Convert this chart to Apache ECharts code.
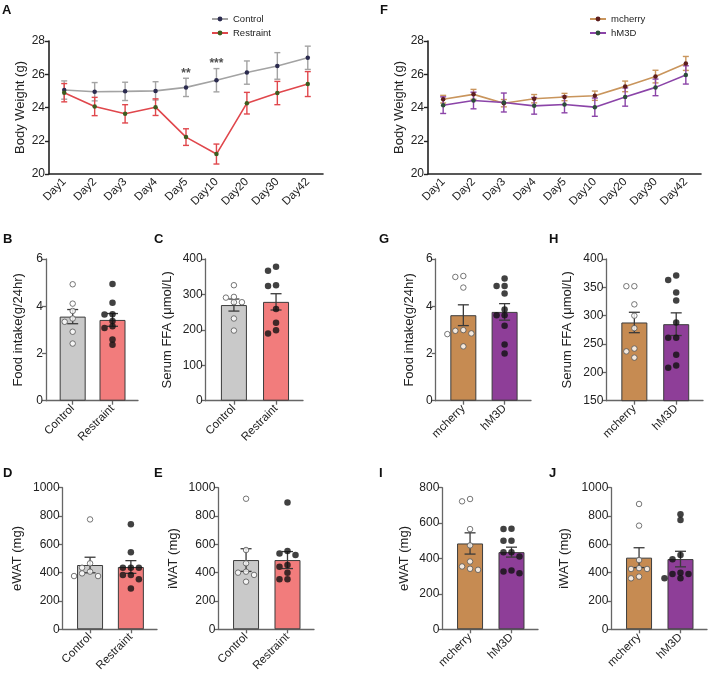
<!DOCTYPE html>
<html><head><meta charset="utf-8">
<script src="https://cdn.jsdelivr.net/npm/echarts@6/dist/echarts.min.js"></script>
<style>html,body{margin:0;padding:0;background:#fff}#c{width:709px;height:680px}</style>
</head><body><div id="c"></div>
<script>
// ---------- data ----------
const days = ['Day1','Day2','Day3','Day4','Day5','Day10','Day20','Day30','Day42'];
const controlMean = [25.05, 24.95, 24.97, 25.0, 25.21, 25.64, 26.1, 26.5, 26.99];
const controlSem = [0.55, 0.55, 0.55, 0.55, 0.55, 0.7, 0.7, 0.8, 0.7];
const restraintMean = [24.89, 24.06, 23.62, 24.02, 22.22, 21.2, 24.26, 24.87, 25.41];
const restraintSem = [0.55, 0.55, 0.55, 0.5, 0.5, 0.6, 0.65, 0.7, 0.75];
const sigMarks = ['', '', '', '', '**', '***', '', '', ''];
const mcherryMean = [24.5, 24.79, 24.26, 24.53, 24.63, 24.71, 25.27, 25.86, 26.65];
const mcherrySem = [0.23, 0.3, 0.22, 0.25, 0.22, 0.28, 0.32, 0.38, 0.42];
const hm3dMean = [24.14, 24.42, 24.3, 24.1, 24.18, 24.02, 24.63, 25.21, 25.96];
const hm3dSem = [0.5, 0.5, 0.57, 0.5, 0.5, 0.55, 0.55, 0.5, 0.55];

const groupsAB = ['Control', 'Restraint'];
const groupsCD = ['mcherry', 'hM3D'];

// B food intake
const foodMean = [3.56, 3.42];
const foodSem = [0.3, 0.27];
const foodControl = [4.93, 4.11, 3.80, 3.48, 3.34, 2.92, 2.42];
const foodRestraint = [4.94, 4.15, 3.66, 3.65, 3.38, 3.15, 3.08, 2.59, 2.37];
// C serum FFA
const ffaMean = [270, 279];
const ffaSem = [17, 23];
const ffaControl = [326, 293, 291, 278, 278, 232, 198];
const ffaRestraint = [378, 367, 326, 324, 259, 220, 199, 190];
// D eWAT
const ewatMean = [454, 440];
const ewatSem = [55, 45];
const ewatControl = [776, 466, 435, 407, 395, 376, 376];
const ewatRestraint = [741, 544, 435, 435, 435, 384, 384, 353, 289];
// E iWAT
const iwatMean = [489, 489];
const iwatSem = [80, 60];
const iwatControl = [922, 560, 466, 407, 400, 384, 336];
const iwatRestraint = [896, 553, 536, 525, 454, 442, 400, 353, 353];
// G food intake
const food2Mean = [3.62, 3.76];
const food2Sem = [0.44, 0.35];
const foodMcherry = [5.28, 5.24, 4.79, 2.99, 2.96, 2.85, 2.82, 2.30];
const foodHm3d = [5.17, 4.86, 4.86, 4.54, 3.86, 3.62, 3.62, 3.17, 2.38, 2.0];
// H serum FFA
const ffa2Mean = [288, 285];
const ffa2Sem = [18, 20];
const ffaMcherry = [352, 352, 320, 300, 278, 242, 237, 226];
const ffaHm3d = [371, 363, 341, 327, 288, 261, 261, 231, 212, 208];
// I eWAT
const ewat2Mean = [485, 436];
const ewat2Sem = [60, 28];
const ewatMcherry = [736, 723, 566, 474, 383, 355, 342, 336];
const ewatHm3d = [568, 566, 500, 500, 436, 436, 411, 332, 326, 317];
// J iWAT
const iwat2Mean = [506, 496];
const iwat2Sem = [70, 55];
const iwatMcherry = [885, 732, 489, 432, 426, 426, 372, 360];
const iwatHm3d = [812, 772, 525, 494, 400, 391, 391, 360, 360];

const yTicksBW = [20, 28, 2];

// ---------- styling / layout ----------
const FONT = '"Liberation Sans", Arial, Helvetica, sans-serif';
const TXT = '#222';
const XMIN = -0.67, XMAX = 1.64;

const grids = [
  {left: 49, top: 41, width: 274, height: 133},      // 0 A
  {left: 428, top: 41, width: 273, height: 133},     // 1 F
  {left: 46, top: 259, width: 92, height: 141.7},    // 2 B
  {left: 205.7, top: 259, width: 97.3, height: 141.7}, // 3 C
  {left: 435.7, top: 259, width: 95.3, height: 141.7}, // 4 G
  {left: 606.3, top: 259, width: 96.7, height: 141.7}, // 5 H
  {left: 62.7, top: 487.7, width: 94.3, height: 141.6}, // 6 D
  {left: 218.3, top: 487.7, width: 95.7, height: 141.6}, // 7 E
  {left: 442.3, top: 487.7, width: 95.7, height: 141.6}, // 8 I
  {left: 611.3, top: 487.7, width: 95.7, height: 141.6}  // 9 J
];

const xAxes = [], yAxes = [], series = [];

function errRender(color, capHalf, lw) {
  return function (params, api) {
    const x = api.value(0), m = api.value(1), s = api.value(2);
    const t = api.coord([x, m + s]), b = api.coord([x, m - s]);
    const st = {stroke: color, lineWidth: lw};
    return {type: 'group', children: [
      {type: 'line', shape: {x1: t[0], y1: t[1], x2: b[0], y2: b[1]}, style: st},
      {type: 'line', shape: {x1: t[0] - capHalf, y1: t[1], x2: t[0] + capHalf, y2: t[1]}, style: st},
      {type: 'line', shape: {x1: b[0] - capHalf, y1: b[1], x2: b[0] + capHalf, y2: b[1]}, style: st}
    ]};
  };
}

function addLinePanel(gi, names, means, sems, lineColors, markerColors, errColors) {
  xAxes.push({type: 'category', gridIndex: gi, data: days, boundaryGap: true,
    axisLine: {lineStyle: {color: '#222', width: 1.6}},
    axisTick: {alignWithLabel: true, length: 4, lineStyle: {color: '#222', width: 1.4}},
    axisLabel: {rotate: 45, interval: 0, fontSize: 11.5, color: TXT, margin: 6, fontFamily: FONT}});
  yAxes.push({type: 'value', gridIndex: gi, min: yTicksBW[0], max: yTicksBW[1], interval: yTicksBW[2],
    axisLine: {show: true, lineStyle: {color: '#222', width: 1.6}},
    axisTick: {show: true, length: 4, lineStyle: {color: '#222', width: 1.4}},
    splitLine: {show: false},
    axisLabel: {fontSize: 12, color: TXT, margin: 4, fontFamily: FONT},
    name: 'Body Weight (g)', nameLocation: 'middle', nameGap: 22,
    nameTextStyle: {fontSize: 13, color: TXT, fontFamily: FONT}});
  for (let k = 0; k < 2; k++) {
    series.push({type: 'custom', xAxisIndex: gi, yAxisIndex: gi, z: 2, silent: true,
      encode: {x: 0, y: 1},
      data: means[k].map((m, i) => [i, m, sems[k][i]]),
      renderItem: errRender(errColors[k], 3, 1.4)});
    series.push({type: 'line', name: names[k], xAxisIndex: gi, yAxisIndex: gi, z: 3,
      data: means[k], symbol: 'circle', symbolSize: 4.5, showSymbol: true,
      lineStyle: {color: lineColors[k], width: 1.6},
      itemStyle: {color: markerColors[k], borderColor: markerColors[k], borderWidth: 0}});
  }
}

function swarm(values, yMin, yMax, hPx, pxPerX) {
  const pxPerY = hPx / (yMax - yMin);
  const order = values.map((v, i) => i).sort((a, b) => values[b] - values[a]);
  const placed = [];
  const off = new Array(values.length).fill(0);
  const step = 8, minD = 5;
  const cands = [0, -step, step, -2 * step, 2 * step, -3 * step, 3 * step];
  for (const i of order) {
    const py = values[i] * pxPerY;
    for (const c of cands) {
      if (placed.every(p => Math.hypot(p[0] - c, p[1] - py) >= minD)) {
        placed.push([c, py]); off[i] = c; break;
      }
    }
  }
  return off.map(o => o / pxPerX);
}

function addBarPanel(gi, labels, yName, nameGap, yMin, yMax, yInt, means, sems, pts, barColors) {
  const g = grids[gi];
  const pxPerX = g.width / (XMAX - XMIN);
  xAxes.push({type: 'value', gridIndex: gi, min: XMIN, max: XMAX,
    splitLine: {show: false},
    axisLine: {onZero: false, lineStyle: {color: '#666', width: 1.3}},
    axisTick: {customValues: [0, 1], length: 4, lineStyle: {color: '#666', width: 1.3}},
    axisLabel: {customValues: [0, 1], formatter: v => labels[Math.round(v)], rotate: 45,
      fontSize: 11.5, color: TXT, margin: 6, fontFamily: FONT}});
  yAxes.push({type: 'value', gridIndex: gi, min: yMin, max: yMax, interval: yInt,
    axisLine: {show: true, onZero: false, lineStyle: {color: '#666', width: 1.3}},
    axisTick: {show: true, length: 4, lineStyle: {color: '#666', width: 1.3}},
    splitLine: {show: false},
    axisLabel: {fontSize: 12, color: TXT, margin: 3, fontFamily: FONT, formatter: v => String(v)},
    name: yName, nameLocation: 'middle', nameGap: nameGap,
    nameTextStyle: {fontSize: 13, color: TXT, fontFamily: FONT}});
  series.push({type: 'bar', xAxisIndex: gi, yAxisIndex: gi, barWidth: 26, z: 1, silent: true,
    data: means.map((m, i) => ({value: [i, m], itemStyle: {color: barColors[i]}})),
    itemStyle: {borderColor: '#3c3c3c', borderWidth: 1}});
  series.push({type: 'custom', xAxisIndex: gi, yAxisIndex: gi, z: 3, silent: true,
    encode: {x: 0, y: 1},
    data: means.map((m, i) => [i, m, sems[i]]),
    renderItem: errRender('#3a3a3a', 5.5, 1.3)});
  for (let k = 0; k < 2; k++) {
    const off = swarm(pts[k], yMin, yMax, g.height, pxPerX);
    series.push({type: 'scatter', xAxisIndex: gi, yAxisIndex: gi, z: 4, silent: true,
      data: pts[k].map((v, i) => [k + off[i], v]),
      symbol: 'circle', symbolSize: k === 0 ? 5.5 : 6.5,
      itemStyle: k === 0 ? {color: '#fff', borderColor: '#555', borderWidth: 1} : {color: '#111'}});
  }
}

// A
addLinePanel(0, ['Control', 'Restraint'], [controlMean, restraintMean], [controlSem, restraintSem],
  ['#a3a3a3', '#e0474c'], ['#2b2b4f', '#3d5c1f'], ['#a3a3a3', '#e0474c']);
// significance marks above control
series.push({type: 'scatter', xAxisIndex: 0, yAxisIndex: 0, z: 5, silent: true, symbolSize: 1,
  itemStyle: {color: 'rgba(0,0,0,0)'},
  data: sigMarks.map((s, i) => s ? {value: [i, controlMean[i] + controlSem[i] + 0.3], label: {formatter: s}} : null).filter(Boolean),
  label: {show: true, position: 'inside', fontSize: 12, fontWeight: 'bold', color: '#222', fontFamily: FONT}});
// F
addLinePanel(1, ['mcherry', 'hM3D'], [mcherryMean, hm3dMean], [mcherrySem, hm3dSem],
  ['#c9955c', '#8b44a8'], ['#5c1d1d', '#2d4d3a'], ['#c9955c', '#8b44a8']);

addBarPanel(2, groupsAB, 'Food intake(g/24hr)', 21, 0, 6, 2, foodMean, foodSem, [foodControl, foodRestraint], ['#c9c9c9', '#f27c7c']);
addBarPanel(3, groupsAB, 'Serum FFA (μmol/L)', 32, 0, 400, 100, ffaMean, ffaSem, [ffaControl, ffaRestraint], ['#c9c9c9', '#f27c7c']);
addBarPanel(4, groupsCD, 'Food intake(g/24hr)', 20, 0, 6, 2, food2Mean, food2Sem, [foodMcherry, foodHm3d], ['#c68b52', '#8e3e98']);
addBarPanel(5, groupsCD, 'Serum FFA (μmol/L)', 32, 150, 400, 50, ffa2Mean, ffa2Sem, [ffaMcherry, ffaHm3d], ['#c68b52', '#8e3e98']);
addBarPanel(6, groupsAB, 'eWAT (mg)', 39, 0, 1000, 200, ewatMean, ewatSem, [ewatControl, ewatRestraint], ['#c9c9c9', '#f27c7c']);
addBarPanel(7, groupsAB, 'iWAT (mg)', 38, 0, 1000, 200, iwatMean, iwatSem, [iwatControl, iwatRestraint], ['#c9c9c9', '#f27c7c']);
addBarPanel(8, groupsCD, 'eWAT (mg)', 31, 0, 800, 200, ewat2Mean, ewat2Sem, [ewatMcherry, ewatHm3d], ['#c68b52', '#8e3e98']);
addBarPanel(9, groupsCD, 'iWAT (mg)', 40, 0, 1000, 200, iwat2Mean, iwat2Sem, [iwatMcherry, iwatHm3d], ['#c68b52', '#8e3e98']);

const letters = [['A', 2, 4], ['F', 380, 4], ['B', 3, 233], ['C', 154, 233], ['G', 379, 233], ['H', 549, 233],
  ['D', 3, 467], ['E', 154, 467], ['I', 379, 467], ['J', 549, 467]];

const legendCommon = {orient: 'vertical', itemWidth: 16, itemHeight: 6, itemGap: 4,
  textStyle: {fontSize: 9.5, color: TXT, fontFamily: FONT}, selectedMode: false};

const option = {
  animation: false,
  backgroundColor: '#fff',
  textStyle: {fontFamily: FONT},
  grid: grids.map(g => Object.assign({containLabel: false}, g)),
  xAxis: xAxes,
  yAxis: yAxes,
  legend: [
    Object.assign({data: ['Control', 'Restraint'], left: 206, top: 9}, legendCommon),
    Object.assign({data: ['mcherry', 'hM3D'], left: 584, top: 9}, legendCommon)
  ],
  graphic: letters.map(l => ({type: 'text', left: l[1], top: l[2],
    style: {text: l[0], font: 'bold 13px ' + FONT, fill: '#111'}})),
  series: series
};

const chart = echarts.init(document.getElementById('c'), null, {renderer: 'canvas'});
chart.setOption(option);
</script>
</body></html>
